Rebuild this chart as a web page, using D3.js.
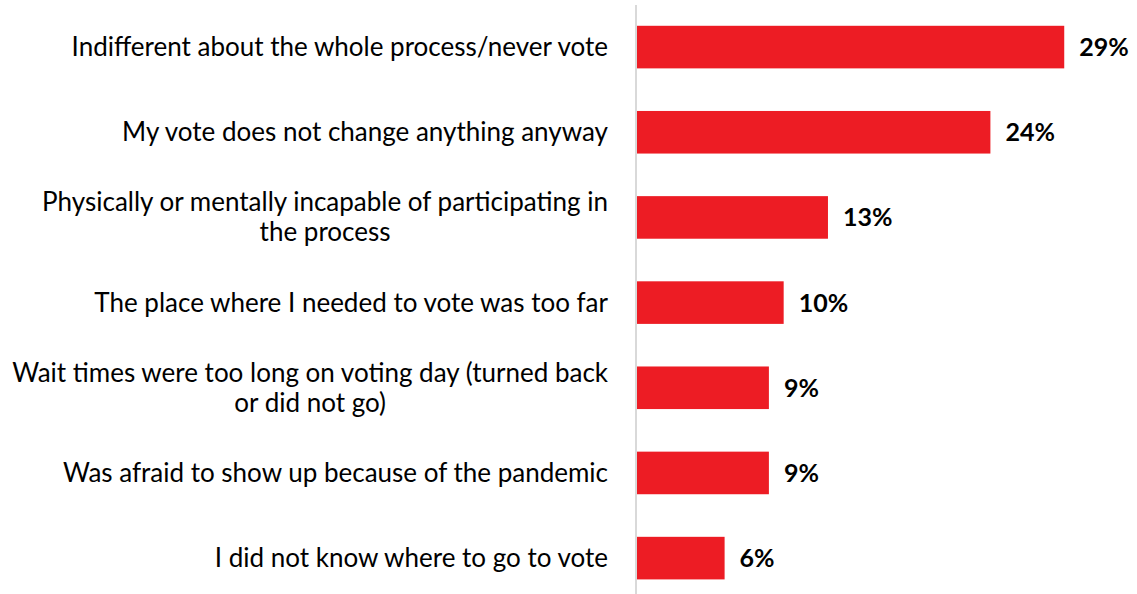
<!DOCTYPE html>
<html>
<head>
<meta charset="utf-8">
<script src="https://cdn.jsdelivr.net/npm/d3@7/dist/d3.min.js"></script>
<style>
  body { margin: 0; background: #fff; }
  svg { display: block; }
  .cat { font-family: Lato, "Open Sans", sans-serif; font-size: 26px; fill: #000; }
  .val { font-family: Lato, "Open Sans", sans-serif; font-size: 25px; font-weight: bold; fill: #000; }
</style>
</head>
<body>
<div id="chart"></div>
<script>
// category labels, each an array of wrapped lines
var categories = [
    ["Indifferent about the whole process/never vote"],
    ["My vote does not change anything anyway"],
    ["Physically or mentally incapable of participating in", "the process"],
    ["The place where I needed to vote was too far"],
    ["Wait times were too long on voting day (turned back", "or did not go)"],
    ["Was afraid to show up because of the pandemic"],
    ["I did not know where to go to vote"]
];
var values = [29, 24, 13, 10, 9, 9, 6];
var valueLabels = ["29%", "24%", "13%", "10%", "9%", "9%", "6%"];

var width = 1137,
    height = 594;

var svg = d3.select("#chart").append("svg")
    .attr("width", width)
    .attr("height", height);

var x = d3.scaleLinear().domain([0, 30]).range([636, 1079]);
var y = d3.scaleBand()
    .domain(d3.range(categories.length))
    .range([4.5, 600.7])
    .paddingInner(0.5)
    .paddingOuter(0.25);

var rows = categories.map(function(c, i) {
    return {lines: c, value: values[i], label: valueLabels[i], i: i};
});

svg.append("g").selectAll("rect")
    .data(rows)
    .enter().append("rect")
    .attr("x", x(0))
    .attr("y", function(d) { return y(d.i); })
    .attr("width", function(d) { return x(d.value) - x(0); })
    .attr("height", y.bandwidth())
    .attr("fill", "#ED1C24");

// vertical axis line
svg.append("line")
    .attr("x1", x(0)).attr("x2", x(0))
    .attr("y1", 5).attr("y2", height)
    .attr("stroke", "#d9d9d9")
    .attr("stroke-width", 2);

var labelRight = 608;

var labels = svg.append("g").selectAll("text")
    .data(rows)
    .enter().append("text")
    .attr("class", "cat");

// wrapped lines are centred under the widest line, block is right aligned
labels.each(function(d) {
    var t = d3.select(this);
    var cy = y(d.i) + y.bandwidth() / 2;
    var n = d.lines.length;
    var spans = d.lines.map(function(line, k) {
        return t.append("tspan")
            .attr("y", cy + 9 + (k - (n - 1) / 2) * 30)
            .text(line);
    });
    var maxW = d3.max(spans, function(s) { return s.node().getComputedTextLength(); });
    spans.forEach(function(s) {
        s.attr("x", labelRight - maxW / 2).attr("text-anchor", "middle");
    });
});

svg.append("g").selectAll("text")
    .data(rows)
    .enter().append("text")
    .attr("class", "val")
    .attr("x", function(d) { return x(d.value) + 15; })
    .attr("y", function(d) { return y(d.i) + y.bandwidth() / 2 + 9; })
    .text(function(d) { return d.label; });
</script>
</body>
</html>
